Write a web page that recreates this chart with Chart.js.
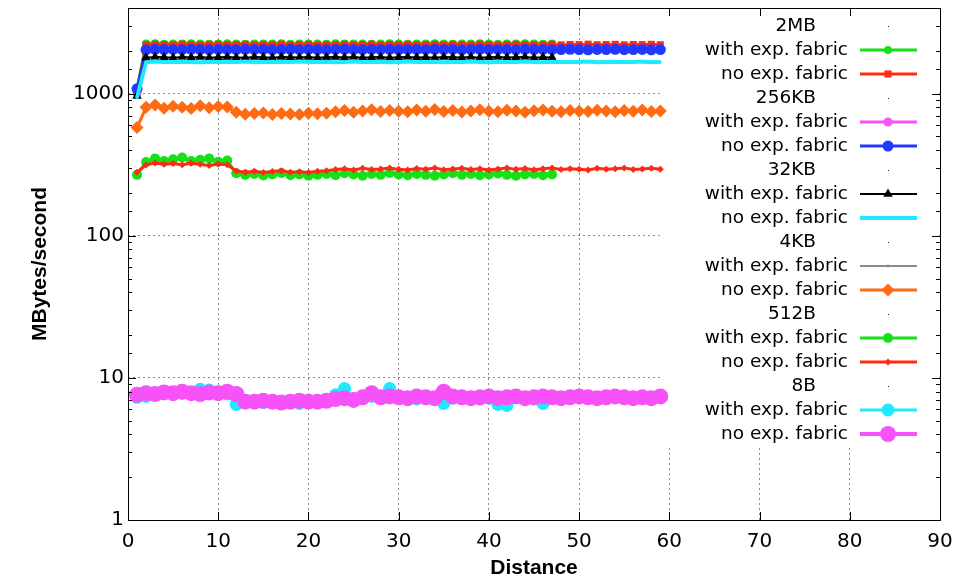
<!DOCTYPE html>
<html>
<head>
<meta charset="utf-8">
<script src="https://cdn.jsdelivr.net/npm/chart.js@4.4.0/dist/chart.umd.min.js"></script>
<style>
  html, body { margin: 0; background: #fff; }
</style>
</head>
<body>
<canvas id="bw" width="971" height="580"></canvas>
<script>
// distance between nodes (x axis)
var distance = [
  1, 2, 3, 4, 5, 6, 7, 8, 9, 10,
  11, 12, 13, 14, 15, 16, 17, 18, 19, 20,
  21, 22, 23, 24, 25, 26, 27, 28, 29, 30,
  31, 32, 33, 34, 35, 36, 37, 38, 39, 40,
  41, 42, 43, 44, 45, 46, 47, 48, 49, 50,
  51, 52, 53, 54, 55, 56, 57, 58, 59
];

var msgSizes = ['2MB', '256KB', '32KB', '4KB', '512B', '8B'];
var yTickLabels = [1, 10, 100, 1000];
var xTickLabels = [0, 10, 20, 30, 40, 50, 60, 70, 80, 90];

// MBytes/second, "with exp. fabric" runs stop at distance 47
var mb2With = [
  1080, 2250, 2260, 2245, 2255, 2250, 2260, 2250, 2245, 2255,
  2260, 2250, 2245, 2250, 2255, 2250, 2260, 2245, 2250, 2255,
  2250, 2245, 2260, 2250, 2255, 2250, 2245, 2255, 2260, 2250,
  2245, 2250, 2255, 2260, 2250, 2245, 2255, 2250, 2260, 2250,
  2245, 2255, 2250, 2260, 2250, 2245, 2255
];
var mb2No = [
  1050, 2200, 2220, 2210, 2205, 2225, 2210, 2200, 2215, 2220,
  2205, 2210, 2220, 2200, 2215, 2210, 2225, 2205, 2210, 2220,
  2200, 2215, 2210, 2220, 2205, 2210, 2225, 2200, 2215, 2210,
  2220, 2205, 2210, 2215, 2200, 2220, 2210, 2205, 2225, 2210,
  2200, 2215, 2220, 2210, 2205, 2210, 2220, 2200, 2215, 2210,
  2225, 2205, 2210, 2220, 2200, 2215, 2210, 2220, 2205
];
var kb256With = [
  1000, 2030, 2050, 2040, 2035, 2045, 2040, 2050, 2030, 2040,
  2045, 2035, 2040, 2050, 2040, 2030, 2045, 2040, 2035, 2050,
  2040, 2045, 2030, 2040, 2050, 2035, 2040, 2045, 2040, 2030,
  2050, 2040, 2035, 2045, 2040, 2050, 2030, 2040, 2045, 2035,
  2040, 2050, 2040, 2030, 2045, 2040, 2035
];
var kb256No = [
  1080, 2030, 2050, 2040, 2045, 2035, 2050, 2040, 2030, 2045,
  2040, 2035, 2050, 2040, 2045, 2030, 2040, 2050, 2035, 2045,
  2040, 2030, 2045, 2050, 2040, 2035, 2045, 2040, 2050, 2030,
  2045, 2040, 2035, 2050, 2040, 2045, 2030, 2040, 2050, 2035,
  2045, 2040, 2030, 2050, 2040, 2045, 2035, 2040, 2050, 2040,
  2030, 2045, 2040, 2050, 2035, 2040, 2045, 2030, 2040
];
var kb32With = [
  960, 1790, 1810, 1800, 1785, 1805, 1795, 1810, 1790, 1800,
  1805, 1795, 1790, 1810, 1800, 1785, 1805, 1800, 1795, 1810,
  1790, 1800, 1805, 1795, 1810, 1790, 1800, 1805, 1785, 1800,
  1810, 1795, 1800, 1790, 1805, 1800, 1795, 1810, 1790, 1800,
  1805, 1795, 1800, 1810, 1790, 1800, 1795
];
var kb32No = [
  940, 1660, 1680, 1670, 1665, 1675, 1670, 1660, 1675, 1670,
  1665, 1670, 1680, 1660, 1670, 1675, 1665, 1670, 1680, 1665,
  1670, 1675, 1660, 1670, 1680, 1665, 1670, 1675, 1660, 1670,
  1680, 1665, 1670, 1675, 1660, 1670, 1665, 1680, 1670, 1660,
  1675, 1670, 1665, 1680, 1670, 1660, 1675, 1670, 1665, 1670,
  1680, 1660, 1670, 1675, 1665, 1670, 1680, 1660, 1670
];
var kb4With = [
  570, 795, 820, 785, 805, 795, 780, 810, 790, 800,
  795, 735, 712, 720, 725, 710, 720, 714, 710, 722,
  716, 722, 740, 752, 736, 750, 762, 744, 754, 748,
  742, 758, 746, 765, 744, 754, 738, 750, 760, 746,
  742, 756, 750, 736, 752, 758, 746
];
var kb4No = [
  577, 800, 830, 790, 815, 800, 785, 820, 795, 810,
  805, 740, 715, 725, 730, 712, 725, 718, 712, 728,
  720, 726, 745, 760, 740, 755, 770, 748, 760, 752,
  745, 765, 750, 772, 748, 760, 742, 755, 768, 750,
  745, 762, 755, 740, 758, 765, 750, 745, 760, 752,
  748, 762, 755, 745, 760, 750, 765, 748, 755
];
var b512With = [
  268, 330, 350, 335, 345, 355, 335, 342, 350, 332,
  338, 275, 268, 272, 265, 270, 276, 266, 270, 264,
  268, 272, 266, 275, 270, 264, 272, 268, 276, 270,
  266, 272, 268, 264, 270, 275, 268, 272, 266, 270,
  274, 268, 264, 270, 272, 266, 270
];
var b512No = [
  280, 315, 325, 318, 322, 316, 324, 318, 312, 320,
  316, 285, 280, 284, 278, 283, 286, 280, 282, 279,
  284, 286, 292, 296, 290, 298, 292, 295, 300, 293,
  290, 297, 294, 300, 291, 295, 298, 292, 296, 290,
  295, 300, 293, 297, 291, 296, 299, 292, 296, 294,
  290, 298, 293, 296, 300, 292, 295, 298, 293
];
var b8With = [
  7.3, 7.4, 7.8, 7.9, 7.7, 7.8, 7.9, 8.3, 8.2, 7.8,
  7.7, 6.5, 6.7, 6.8, 6.7, 6.8, 6.7, 6.8, 6.6, 6.8,
  6.7, 6.9, 7.6, 8.4, 7.1, 7.2, 7.4, 7.3, 8.4, 7.2,
  7.3, 7.1, 7.4, 7.3, 6.6, 7.2, 7.4, 7.3, 7.1, 7.2,
  6.5, 6.4, 7.3, 7.2, 7.1, 6.6, 7.2
];
var b8No = [
  7.6, 7.8, 7.7, 7.9, 7.8, 8.0, 7.8, 7.7, 7.9, 7.8,
  8.0, 7.7, 6.8, 6.8, 6.9, 6.8, 6.7, 6.8, 6.9, 6.8,
  6.8, 6.9, 7.1, 7.2, 7.0, 7.3, 7.8, 7.3, 7.4, 7.3,
  7.2, 7.4, 7.3, 7.2, 8.0, 7.4, 7.3, 7.2, 7.3, 7.4,
  7.2, 7.3, 7.4, 7.2, 7.3, 7.4, 7.3, 7.2, 7.3, 7.4,
  7.3, 7.2, 7.3, 7.4, 7.3, 7.2, 7.3, 7.2, 7.4
];

function pts(vals) {
  return vals.map(function (v, i) { return { x: distance[i], y: v }; });
}

function series(label, vals, color, lw, style, r) {
  return {
    label: label,
    data: pts(vals),
    borderColor: color,
    backgroundColor: color,
    borderWidth: lw,
    pointStyle: style,
    pointRadius: r,
    pointBorderWidth: 0,
    pointBackgroundColor: color,
    tension: 0
  };
}

var GREEN = '#16e016', RED = '#ff2a14', MAGENTA = '#f752f7', BLUE = '#2038ff';
var CYAN = '#1eeaff', ORANGE = '#ff6a12', GREY = '#8a8a8a';

var datasets = [
  series('with exp. fabric', mb2With, GREEN, 3, 'circle', 4),
  series('no exp. fabric', mb2No, RED, 3, 'rect', 5),
  series('with exp. fabric', kb256With, MAGENTA, 3, 'circle', 4.5),
  series('no exp. fabric', kb256No, BLUE, 3, 'circle', 5.5),
  series('with exp. fabric', kb32With, '#000000', 2, 'triangle', 5.5),
  series('no exp. fabric', kb32No, CYAN, 4, 'circle', 1.5),
  series('with exp. fabric', kb4With, GREY, 2, 'circle', 1.5),
  series('no exp. fabric', kb4No, ORANGE, 3, 'rectRot', 6.5),
  series('with exp. fabric', b512With, GREEN, 3, 'circle', 5),
  series('no exp. fabric', b512No, RED, 3, 'rectRot', 3.5),
  series('with exp. fabric', b8With, CYAN, 3, 'circle', 6.5),
  series('no exp. fabric', b8No, MAGENTA, 4, 'circle', 8)
];
// later plots sit on top of earlier ones
datasets.forEach(function (d, i) { d.order = datasets.length - i; });

function mark(ctx, style, r, x, y, color) {
  ctx.fillStyle = color;
  ctx.beginPath();
  if (style === 'rect') {
    var s = r / Math.SQRT2;
    ctx.rect(x - s, y - s, 2 * s, 2 * s);
  } else if (style === 'rectRot') {
    ctx.moveTo(x, y - r); ctx.lineTo(x + r, y); ctx.lineTo(x, y + r); ctx.lineTo(x - r, y);
  } else if (style === 'triangle') {
    ctx.moveTo(x, y - r);
    ctx.lineTo(x + r * 0.866, y + r / 2);
    ctx.lineTo(x - r * 0.866, y + r / 2);
  } else {
    ctx.arc(x, y, r, 0, Math.PI * 2);
  }
  ctx.closePath();
  ctx.fill();
}

var gnuFrame = {
  id: 'gnuFrame',
  beforeDatasetsDraw: function (chart) {
    var ctx = chart.ctx, a = chart.chartArea;
    // key box is opaque, it hides the grid behind it
    ctx.save();
    ctx.fillStyle = '#fff';
    ctx.fillRect(661, a.top + 1, a.right - 662, 437);
    ctx.font = '18.5px "DejaVu Sans"';
    ctx.textAlign = 'right';
    ctx.textBaseline = 'middle';
    var row = 0;
    msgSizes.forEach(function (size, g) {
      var y = 26 + row * 24;
      ctx.fillStyle = '#000';
      ctx.fillText(size, 816, y);
      ctx.fillStyle = '#222';
      ctx.fillRect(888, y, 1, 1);
      row++;
      for (var k = 0; k < 2; k++) {
        var ds = chart.data.datasets[g * 2 + k];
        y = 26 + row * 24;
        ctx.fillStyle = '#000';
        ctx.fillText(ds.label, 848, y);
        ctx.strokeStyle = ds.borderColor;
        ctx.lineWidth = ds.borderWidth;
        ctx.beginPath();
        ctx.moveTo(860, y);
        ctx.lineTo(917, y);
        ctx.stroke();
        mark(ctx, ds.pointStyle, ds.pointRadius, 888, y, ds.borderColor);
        row++;
      }
    });
    ctx.restore();
  },
  afterDraw: function (chart) {
    var ctx = chart.ctx, a = chart.chartArea;
    var xs = chart.scales.x, ys = chart.scales.y;
    ctx.save();
    ctx.strokeStyle = '#000';
    ctx.lineWidth = 1;
    ctx.beginPath();
    // inward ticks on all four sides
    xs.ticks.forEach(function (t) {
      var px = Math.round(xs.getPixelForValue(t.value)) + 0.5;
      ctx.moveTo(px, a.bottom); ctx.lineTo(px, a.bottom - 8);
      ctx.moveTo(px, a.top); ctx.lineTo(px, a.top + 8);
    });
    ys.ticks.forEach(function (t) {
      var py = Math.round(ys.getPixelForValue(t.value)) + 0.5;
      var len = yTickLabels.indexOf(t.value) >= 0 ? 8 : 4;
      ctx.moveTo(a.left, py); ctx.lineTo(a.left + len, py);
      ctx.moveTo(a.right, py); ctx.lineTo(a.right - len, py);
    });
    ctx.stroke();
    ctx.strokeRect(Math.round(a.left) + 0.5, Math.round(a.top) + 0.5,
      Math.round(a.right - a.left), Math.round(a.bottom - a.top));

    // axis titles
    ctx.fillStyle = '#000';
    ctx.font = 'bold 21px "Liberation Sans"';
    ctx.textAlign = 'center';
    ctx.textBaseline = 'middle';
    ctx.fillText('Distance', (a.left + a.right) / 2, 568);
    ctx.translate(40, (a.top + a.bottom) / 2);
    ctx.rotate(-Math.PI / 2);
    ctx.fillText('MBytes/second', 0, 0);
    ctx.restore();
  }
};

var ctx = document.getElementById('bw').getContext('2d');
var chart = new Chart(ctx, {
  type: 'line',
  data: { datasets: datasets },
  options: {
    responsive: false,
    animation: false,
    layout: { padding: { top: 8, right: 31, left: 0, bottom: 0 } },
    plugins: { legend: { display: false }, tooltip: { enabled: false } },
    scales: {
      x: {
        type: 'linear',
        min: 0,
        max: 90,
        afterFit: function (s) { s.height = 60; },
        afterBuildTicks: function (s) {
          s.ticks = xTickLabels.map(function (v) { return { value: v }; });
        },
        ticks: {
          color: '#000',
          padding: 10,
          font: { family: 'DejaVu Sans', size: 20 },
          maxRotation: 0
        },
        border: { display: false, dash: [2, 3] },
        grid: {
          drawTicks: false,
          color: function (c) {
            var v = c.tick && c.tick.value;
            return (v > 0 && v < 90) ? '#8c8c8c' : 'rgba(0,0,0,0)';
          }
        }
      },
      y: {
        type: 'logarithmic',
        min: 1,
        max: 4000,
        afterFit: function (s) {
          s.width = 128;
          s.paddingTop = 0;
          s.paddingBottom = 0;
        },
        ticks: {
          color: '#000',
          padding: 4,
          autoSkip: false,
          font: { family: 'DejaVu Sans', size: 20 },
          callback: function (v) { return yTickLabels.indexOf(v) >= 0 ? String(v) : ''; }
        },
        border: { display: false, dash: [2, 3] },
        grid: {
          drawTicks: false,
          color: function (c) {
            var v = c.tick && c.tick.value;
            return (v === 10 || v === 100 || v === 1000) ? '#8c8c8c' : 'rgba(0,0,0,0)';
          }
        }
      }
    }
  },
  plugins: [gnuFrame]
});
</script>
</body>
</html>
